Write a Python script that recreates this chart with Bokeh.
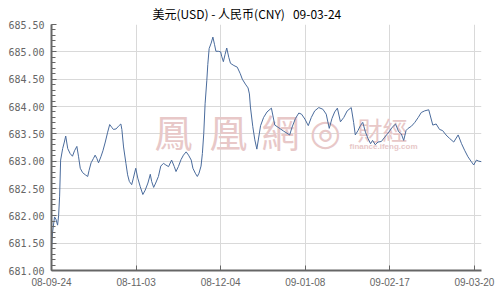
from bokeh.plotting import figure
from bokeh.models import FixedTicker, SingleIntervalTicker, NumeralTickFormatter, Label, Range1d
from bokeh.embed import file_html
from bokeh.resources import INLINE

# ---- data (trading-day index, 25 days per labelled interval) ----
tick_days = [0, 25, 50, 75, 100, 125]
tick_labels = ["08-09-24", "08-11-03", "08-12-04", "09-01-08", "09-02-17", "09-03-20"]

day_index = [
    0, 0.3, 0.9, 1.3, 1.8, 2.1, 2.4, 2.7, 3.3, 3.8, 4.2, 4.8, 5.5, 6.2, 6.8, 7.5, 8.0, 8.5, 9.2, 10.0,
    10.7, 11.1, 11.7, 12.4, 12.9, 13.4, 13.9, 14.6, 15.2, 15.9, 16.6, 17.2, 17.8, 18.3, 19.1, 19.8, 20.5, 20.8, 21.3, 22.0,
    22.5, 23.0, 23.7, 24.2, 24.9, 25.5, 26.2, 27.0, 27.7, 28.5, 29.2, 29.6, 30.2, 30.8, 31.6, 32.3, 33.1, 33.8, 34.6, 35.5,
    36.3, 36.8, 37.5, 38.3, 39.0, 39.8, 40.5, 41.3, 41.8, 42.5, 43.1, 43.6, 44.2, 44.6, 45.0, 45.4, 45.9, 46.2, 46.6, 47.2,
    47.7, 48.2, 48.6, 49.3, 50.0, 50.3, 50.8, 51.3, 51.8, 52.4, 52.9, 53.9, 54.9, 55.8, 56.4, 57.3, 58.1, 58.5, 58.8, 59.5,
    60.1, 60.7, 61.8, 62.7, 63.7, 65.0, 66.0, 67.2, 68.6, 70.4, 71.1, 72.1, 73.1, 73.9, 74.9, 75.9, 76.8, 77.8, 79.0, 80.2,
    81.2, 82.1, 82.9, 83.7, 84.5, 85.4, 86.4, 87.4, 88.6, 89.3, 89.8, 90.6, 91.3, 92.0, 92.8, 93.6, 94.3, 94.9, 95.7, 96.5,
    97.5, 98.5, 99.7, 100.7, 101.7, 102.6, 103.4, 104.1, 104.8, 105.4, 106.4, 107.4, 108.4, 109.3, 110.3, 111.5, 112.7, 113.7, 114.7, 115.6,
    116.6, 117.6, 118.9, 120.2, 121.2, 122.1, 123.1, 124.1, 124.8, 125.6, 126.3, 127.1,
]

usd_cny = [
    681.38, 681.69, 681.98, 681.94, 681.83, 682.00, 682.36, 683.02, 683.23, 683.35, 683.46, 683.23, 683.14, 683.09, 683.19, 683.27, 683.08, 682.87, 682.79, 682.75,
    682.72, 682.83, 682.97, 683.05, 683.11, 683.05, 682.97, 683.08, 683.19, 683.35, 683.53, 683.67, 683.62, 683.58, 683.59, 683.64, 683.68, 683.58, 683.26, 682.96,
    682.75, 682.63, 682.57, 682.69, 682.87, 682.69, 682.54, 682.39, 682.47, 682.60, 682.76, 682.63, 682.52, 682.60, 682.72, 682.91, 682.96, 682.93, 682.90, 683.02,
    682.90, 682.81, 682.90, 683.03, 683.11, 683.17, 683.11, 683.02, 682.87, 682.78, 682.72, 682.78, 682.91, 683.14, 683.50, 684.05, 684.47, 684.77, 685.06, 685.16,
    685.27, 685.13, 685.01, 685.01, 685.00, 684.92, 684.82, 684.95, 685.07, 684.90, 684.79, 684.75, 684.72, 684.60, 684.50, 684.41, 684.34, 684.23, 683.99, 683.63,
    683.39, 683.22, 683.65, 683.80, 683.90, 683.97, 683.66, 683.61, 683.55, 683.48, 683.62, 683.78, 683.88, 683.86, 683.77, 683.65, 683.80, 683.92, 683.98, 683.95,
    683.86, 683.60, 683.78, 683.90, 683.97, 683.72, 683.80, 683.92, 683.98, 683.71, 683.48, 683.56, 683.65, 683.71, 683.53, 683.41, 683.32, 683.38, 683.30, 683.35,
    683.36, 683.44, 683.53, 683.62, 683.68, 683.54, 683.50, 683.38, 683.56, 683.60, 683.64, 683.71, 683.80, 683.89, 683.92, 683.94, 683.66, 683.68, 683.58, 683.56,
    683.48, 683.42, 683.35, 683.48, 683.32, 683.20, 683.08, 682.99, 682.93, 683.02, 683.00, 682.99,
]
assert len(day_index) == len(usd_cny)

title_text = "美元(USD) - 人民币(CNY)\u00a0\u00a0 09-03-24"

p = figure(width=500, height=300, output_backend="svg", toolbar_location=None,
           x_range=Range1d(0, 127.1), y_range=Range1d(681.0, 685.5),
           min_border_left=51, min_border_right=19, min_border_top=0, min_border_bottom=30)
p.outline_line_color = None
p.background_fill_color = "white"
p.border_fill_color = "white"

# title
p.title.text = title_text
p.title.align = "left"
p.title.offset = 101
p.title.text_font = "Noto Sans CJK SC"
p.title.text_font_size = "12px"
p.title.text_font_style = "normal"
p.title.text_color = "black"
p.title.standoff = 5
p.title.vertical_align = "bottom"

# grids
p.xgrid.ticker = FixedTicker(ticks=tick_days)
p.xgrid.grid_line_color = "#d9d9d9"
p.ygrid.grid_line_color = "#d9d9d9"

# axes
xa = p.xaxis[0]
xa.ticker = FixedTicker(ticks=tick_days)
xa.major_label_overrides = {d: l for d, l in zip(tick_days, tick_labels)}
xa.axis_line_color = "#666666"
xa.axis_line_width = 2
xa.major_tick_line_color = "#666666"
xa.major_tick_in = 5
xa.major_tick_out = 0
xa.minor_tick_line_color = None
xa.major_label_text_font = "Liberation Sans"
xa.major_label_text_font_size = "10px"
xa.major_label_text_color = "#666666"
xa.major_label_standoff = 7

ya = p.yaxis[0]
ya.ticker = SingleIntervalTicker(interval=0.5, num_minor_ticks=5)
ya.formatter = NumeralTickFormatter(format="0.00")
ya.axis_line_color = "#666666"
ya.axis_line_width = 2
ya.major_tick_line_color = "#666666"
ya.minor_tick_line_color = "#666666"
ya.major_tick_in = 5
ya.major_tick_out = 0
ya.minor_tick_in = 4
ya.minor_tick_out = 0
ya.major_label_text_font = "DejaVu Sans Mono"
ya.major_label_text_font_size = "10px"
ya.major_label_text_color = "#666666"
ya.major_label_standoff = 7

# watermark (decorative)
wm = "#e8c8c8"
for ch, cx in [("鳳", 122), ("凰", 177), ("網", 229)]:
    p.add_layout(Label(x=cx, y=140, x_units="screen", y_units="screen", text=ch,
                       text_font="Noto Sans CJK TC", text_font_size="38px", text_color=wm,
                       text_align="center", text_baseline="middle", level="underlay"))
p.add_layout(Label(x=274, y=138, x_units="screen", y_units="screen", text="◎",
                   text_font="DejaVu Sans", text_font_size="36px", text_color=wm,
                   text_align="center", text_baseline="middle", level="underlay"))
p.add_layout(Label(x=331, y=142, x_units="screen", y_units="screen", text="財經",
                   text_font="Noto Sans CJK TC", text_font_size="25px", text_color=wm,
                   text_align="center", text_baseline="middle", level="underlay"))
p.add_layout(Label(x=332, y=124, x_units="screen", y_units="screen", text="finance.ifeng.com",
                   text_font="Liberation Sans", text_font_size="8px", text_font_style="bold",
                   text_color=wm, text_align="center", text_baseline="middle", level="underlay"))

p.line(day_index, usd_cny, line_color="#4a6b9c", line_width=1)

open("out.html", "w").write(file_html(p, INLINE))
